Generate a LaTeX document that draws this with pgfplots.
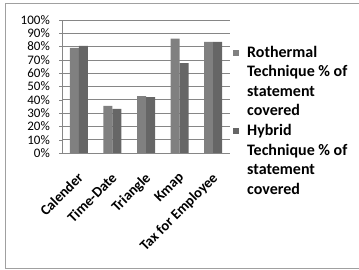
\documentclass[border=0pt]{standalone}
\usepackage{fontspec}
\setmainfont{Carlito}
\usepackage{pgfplots}
\pgfplotsset{compat=1.18}
\definecolor{barA}{RGB}{128,128,128}
\definecolor{barB}{RGB}{102,102,102}
\definecolor{gridc}{RGB}{134,134,134}
\begin{document}
\begin{tikzpicture}[x=1pt,y=1pt]
\clip (0,0) rectangle (359,270);
\draw[color={rgb,255:red,160;green,160;blue,160}, line width=1pt] (5.5,1) rectangle (370,266);
\begin{axis}[
  at={(62pt,117pt)}, anchor=south west,
  scale only axis, width=168pt, height=133pt,
  ymin=0, ymax=100, xmin=-0.5, xmax=4.5,
  ybar=0pt, bar width=9pt,
  axis x line*=bottom, axis y line*=left,
  axis line style={gridc, -},
  ytick={0,10,...,100},
  yticklabel={\pgfmathprintnumber{\tick}\%},
  ymajorgrids, grid style={gridc, line width=0.6pt},
  tick align=outside,
  major tick length=3pt,
  minor tick length=4pt,
  tick style={gridc},
  xtick={0,1,2,3,4},
  xticklabels={Calender,Time-Date,Triangle,Kmap,Tax for Employee},
  xtick style={draw=none},
  minor xtick={-0.5,0.5,1.5,2.5,3.5,4.5},
  /pgf/number format/assume math mode=true,
  y tick label style={font=\fontsize{13}{15}\selectfont, anchor=east, inner sep=0pt, xshift=-9pt},
  x tick label style={font=\bfseries\fontsize{14.5}{17}\selectfont, xshift=-2pt, yshift=-14pt, rotate=45, anchor=north east, inner sep=1pt},
  legend style={draw=none, fill=none, at={(1,1)}, anchor=north west, xshift=3pt, yshift=-24pt,
    font=\bfseries\fontsize{16}{19.5}\selectfont, cells={align=left}, inner sep=0pt, row sep=3pt},
  legend cell align=left,
  legend image code/.code={\fill[#1] (0pt,26.25pt) rectangle (6pt,32.25pt); \path (0pt,-32.25pt) (12pt,0pt);},
]
\addplot[fill=barA, draw=none] coordinates {(0,79) (1,35.5) (2,42.75) (3,86) (4,83.5)};
\addplot[fill=barB, draw=none] coordinates {(0,80.5) (1,33.25) (2,42) (3,67.5) (4,83.5)};
\legend{Rothermal\\Technique \% of\\statement\\covered, Hybrid\\Technique \% of\\statement\\covered}
\end{axis}
\end{tikzpicture}
\end{document}
